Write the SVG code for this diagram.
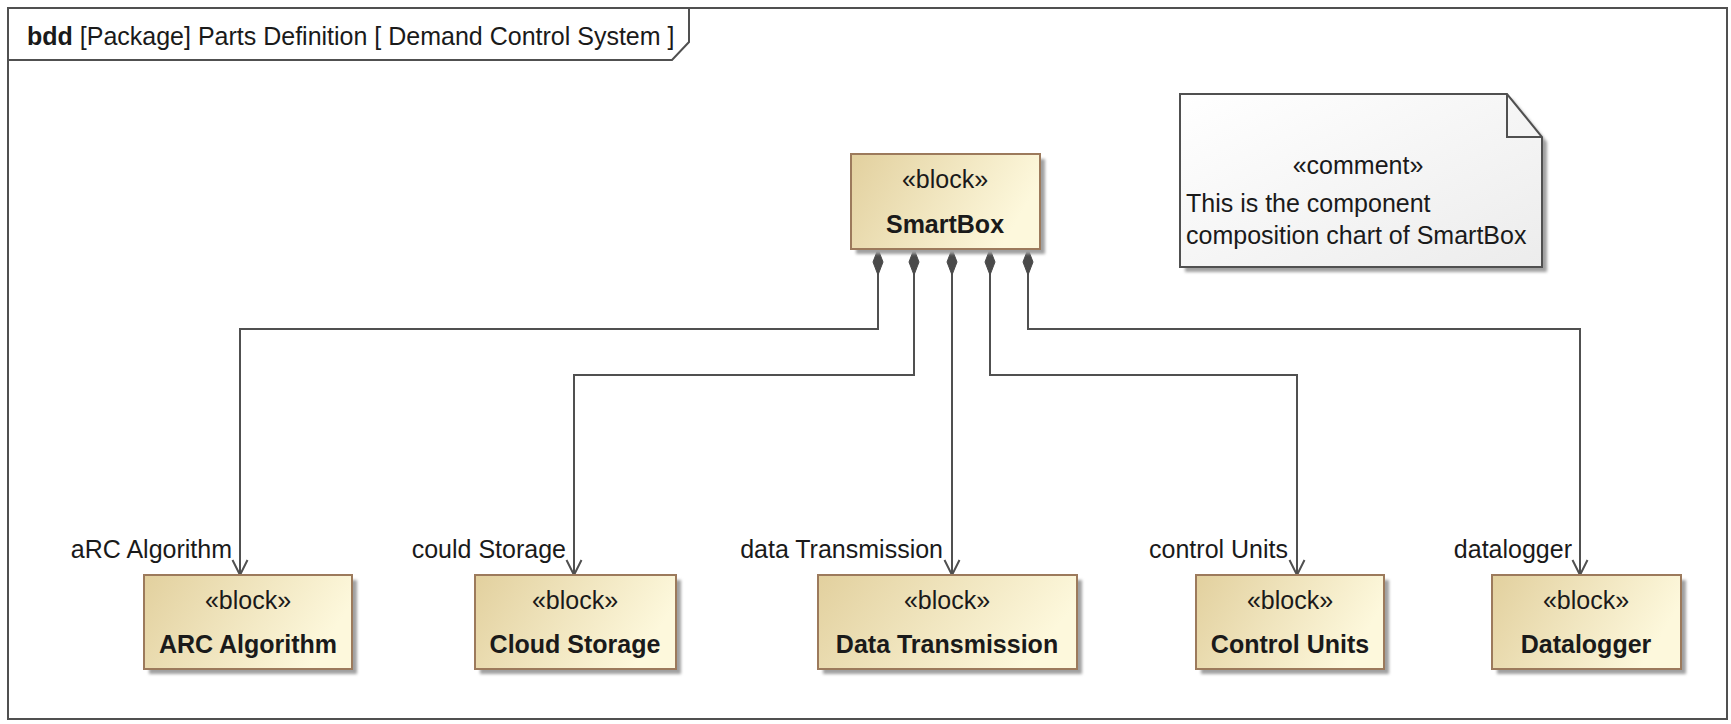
<svg xmlns="http://www.w3.org/2000/svg" width="1731" height="724" viewBox="0 0 1731 724">
<style>
  text { font-family: "Liberation Sans", Arial, sans-serif; font-size: 25px; fill: #1a1a1a; }
  .bold { font-weight: bold; }
  .mid { text-anchor: middle; }
  .end { text-anchor: end; }
  .frame { fill: #ffffff; stroke: #505050; stroke-width: 2; }
  .tab { fill: none; stroke: #505050; stroke-width: 2; }
  .block { fill: url(#blockGrad); stroke: #9c7a5c; stroke-width: 2; }
  .shadow { fill: #a0a0a0; filter: url(#blur); }
  .note { fill: url(#noteGrad); stroke: #505050; stroke-width: 2; }
  .conn { fill: none; stroke: #505050; stroke-width: 2; marker-start: url(#diamond); marker-end: url(#arrow); }
</style>
<defs>
  <linearGradient id="blockGrad" x1="0" y1="0" x2="1" y2="0.3">
    <stop offset="0" stop-color="#e2d09e"/>
    <stop offset="1" stop-color="#fdf8dc"/>
  </linearGradient>
  <linearGradient id="noteGrad" x1="0" y1="0" x2="1" y2="1">
    <stop offset="0" stop-color="#ffffff"/>
    <stop offset="1" stop-color="#ececec"/>
  </linearGradient>
  <filter id="blur" x="-10%" y="-10%" width="120%" height="120%">
    <feGaussianBlur stdDeviation="1.5"/>
  </filter>
  <marker id="arrow" markerUnits="userSpaceOnUse" markerWidth="20" markerHeight="20" viewBox="-2 -2 20 20" refX="15" refY="7.5" orient="auto">
    <path d="M0,0 L15,7.5 L0,15" fill="none" stroke="#505050" stroke-width="2"/>
  </marker>
  <marker id="diamond" markerUnits="userSpaceOnUse" markerWidth="30" markerHeight="14" viewBox="0 -7 30 14" refX="0" refY="0" orient="auto">
    <path d="M0,0 L13,-5 L26,0 L13,5 Z" fill="#4a4a4a" stroke="#4a4a4a" stroke-width="1"/>
  </marker>
</defs>

<g id="frame">
  <rect class="frame" x="8" y="8" width="1719" height="711"/>
  <path class="tab" d="M8,60 H672 L689,42 V8"/>
  <text x="27" y="45"><tspan class="bold">bdd</tspan> [Package] Parts Definition [ Demand Control System ]</text>
</g>

<g id="comment">
  <path class="shadow" d="M1185,99 H1512 L1547,142 V272 H1185 Z"/>
  <path class="note" d="M1180,94 H1507 L1542,137 V267 H1180 Z"/>
  <path d="M1507,94 V137 H1542" fill="none" stroke="#505050" stroke-width="2"/>
  <text class="mid" x="1358" y="174">«comment»</text>
  <text x="1186" y="212">This is the component</text>
  <text x="1186" y="244">composition chart of SmartBox</text>
</g>

<g id="connectors">
  <path class="conn" d="M878,249 V329 H240 V575"/>
  <path class="conn" d="M914,249 V375 H574 V575"/>
  <path class="conn" d="M952,249 V575"/>
  <path class="conn" d="M990,249 V375 H1297 V575"/>
  <path class="conn" d="M1028,249 V329 H1580 V575"/>
  <text class="end" x="232" y="558">aRC Algorithm</text>
  <text class="end" x="566" y="558">could Storage</text>
  <text class="end" x="943" y="558">data Transmission</text>
  <text class="end" x="1288" y="558">control Units</text>
  <text class="end" x="1572" y="558">datalogger</text>
</g>

<g id="smartbox">
  <rect class="shadow" x="856" y="159" width="189" height="95"/>
  <rect class="block" x="851" y="154" width="189" height="95"/>
  <text class="mid" x="945" y="188">«block»</text>
  <text class="mid bold" x="945" y="233">SmartBox</text>
</g>

<g id="arc-algorithm">
  <rect class="shadow" x="149" y="580" width="208" height="94"/>
  <rect class="block" x="144" y="575" width="208" height="94"/>
  <text class="mid" x="248" y="609">«block»</text>
  <text class="mid bold" x="248" y="653">ARC Algorithm</text>
</g>

<g id="cloud-storage">
  <rect class="shadow" x="480" y="580" width="201" height="94"/>
  <rect class="block" x="475" y="575" width="201" height="94"/>
  <text class="mid" x="575" y="609">«block»</text>
  <text class="mid bold" x="575" y="653">Cloud Storage</text>
</g>

<g id="data-transmission">
  <rect class="shadow" x="823" y="580" width="259" height="94"/>
  <rect class="block" x="818" y="575" width="259" height="94"/>
  <text class="mid" x="947" y="609">«block»</text>
  <text class="mid bold" x="947" y="653">Data Transmission</text>
</g>

<g id="control-units">
  <rect class="shadow" x="1201" y="580" width="188" height="94"/>
  <rect class="block" x="1196" y="575" width="188" height="94"/>
  <text class="mid" x="1290" y="609">«block»</text>
  <text class="mid bold" x="1290" y="653">Control Units</text>
</g>

<g id="datalogger">
  <rect class="shadow" x="1497" y="580" width="189" height="94"/>
  <rect class="block" x="1492" y="575" width="189" height="94"/>
  <text class="mid" x="1586" y="609">«block»</text>
  <text class="mid bold" x="1586" y="653">Datalogger</text>
</g>
</svg>
